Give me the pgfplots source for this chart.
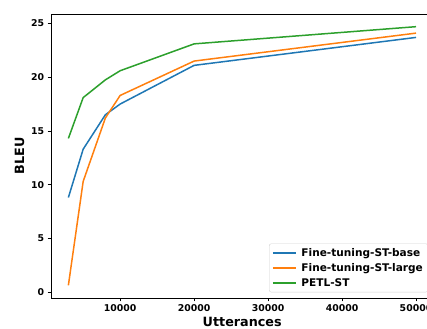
\documentclass[border=0pt]{standalone}
\usepackage{pgfplots}
\pgfplotsset{compat=1.18}
\usepackage{fontspec}
\setmainfont{DejaVu Sans}
\definecolor{tabblue}{HTML}{1F77B4}
\definecolor{taborange}{HTML}{FF7F0E}
\definecolor{tabgreen}{HTML}{2CA02C}
\begin{document}
\begin{tikzpicture}
\begin{axis}[
  scale only axis,
  width=382.4bp, height=284bp,
  xmin=650, xmax=52350,
  ymin=-0.55, ymax=25.88,
  xtick={10000,20000,30000,40000,50000},
  ytick={0,5,10,15,20,25},
  scaled x ticks=false,
  /pgf/number format/1000 sep={},
  /pgf/number format/assume math mode=true,
  tick label style={font=\bfseries\fontsize{9.4}{11}\selectfont},
  tick align=outside,
  tick pos=left,
  major tick length=3.3bp,
  every tick/.style={black, line width=0.75bp},
  axis line style={line width=0.75bp},
  xlabel={\bfseries Utterances},
  ylabel={\bfseries BLEU},
  label style={font=\bfseries\fontsize{12.8}{14}\selectfont},
  xlabel style={yshift=2bp},
  every axis plot/.append style={line width=1.5bp},
  legend style={
    at={(rel axis cs:1,0)}, anchor=south east,
    xshift=-5.4bp, yshift=5.7bp,
    draw=gray!35, rounded corners=2bp, fill=white, fill opacity=0.8, text opacity=1,
    font=\bfseries\fontsize{10.6}{12}\selectfont,
    row sep=1.5bp, column sep=3bp, inner xsep=3bp, inner ysep=2.5bp,
  },
  legend cell align=left,
  legend image code/.code={\draw[#1, line width=1.5bp] (0bp,0bp) -- (22.7bp,0bp);},
]
\addplot[color=tabblue, solid] coordinates {(3000,8.8) (5000,13.3) (8000,16.5) (10000,17.5) (20000,21.1) (50000,23.7)};
\addlegendentry{Fine-tuning-ST-base}
\addplot[color=taborange, solid] coordinates {(3000,0.63) (5000,10.3) (8000,16.2) (10000,18.3) (20000,21.5) (50000,24.1)};
\addlegendentry{Fine-tuning-ST-large}
\addplot[color=tabgreen, solid] coordinates {(3000,14.3) (5000,18.1) (8000,19.75) (10000,20.6) (20000,23.1) (50000,24.7)};
\addlegendentry{PETL-ST}
\end{axis}
\pgfresetboundingbox
\path[use as bounding box] (-51bp,-31bp) rectangle (376bp,298bp);
\end{tikzpicture}
\end{document}
